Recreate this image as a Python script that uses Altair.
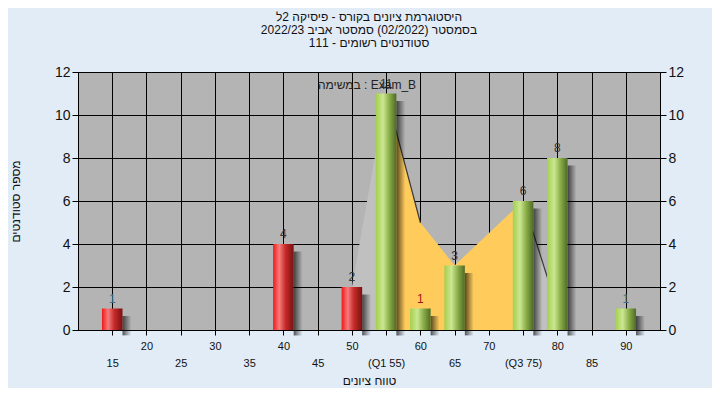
import altair as alt
import pandas as pd

# ---- data ----
GRADES = [15, 40, 50, 55, 60, 65, 75, 80, 90]
COUNTS = [1, 4, 2, 11, 1, 3, 6, 8, 1]
CURVE_X = [50, 55, 60, 65, 75, 80]
CURVE_Y = [2, 11, 5, 3, 6, 1]
Q1, Q3 = 55, 75
PASS = 55
X_TICKS = list(range(15, 95, 5))
Y_TICKS = list(range(0, 13, 2))

TITLE_LINES = [
    "היסטוגרמת ציונים בקורס - פיסיקה 2ל",
    "בסמסטר  (02/2022)  סמסטר אביב 2022/23",
    "סטודנטים רשומים - 111",
]
X_TITLE = "טווח ציונים"
Y_TITLE = "מספר סטודנטים"
TASK_LABEL = "במשימה : Exam_B"

bars = pd.DataFrame({"grade": GRADES, "count": COUNTS})
curve = pd.DataFrame({"grade": CURVE_X, "v": CURVE_Y})

FONT = "Liberation Sans"
xs = alt.Scale(domain=[10, 95], nice=False, zero=False)
ys = alt.Scale(domain=[0, 12], nice=False)

label_expr = (
    f"datum.value == {Q1} ? ['', '(Q1 {Q1})'] : "
    f"datum.value == {Q3} ? ['', '(Q3 {Q3})'] : "
    "(datum.value % 10 == 5 ? ['', datum.label] : datum.label)"
)

x_axis = alt.Axis(
    values=X_TICKS, grid=True, gridColor="black", gridOpacity=1, gridWidth=1,
    tickColor="black", tickSize=5, domainColor="black",
    labelExpr=label_expr, labelFontSize=11, labelBaseline="top", labelPadding=5,
    labelLineHeight=17, labelColor="#111", labelFont=FONT, labelFlush=False,
    labelOverlap=False, title=X_TITLE, titleFont=FONT, titleFontSize=12,
    titleFontWeight="normal", titleColor="#111", titlePadding=7,
)
y_axis_left = alt.Axis(
    values=Y_TICKS, grid=True, gridColor="black", gridOpacity=1, gridWidth=1,
    tickColor="black", tickSize=6, domainColor="black",
    labelFontSize=14, labelFont=FONT, labelColor="#111", labelPadding=2,
    title=Y_TITLE, titleFont=FONT, titleFontSize=12,
    titleFontWeight="normal", titleColor="#111", titlePadding=32,
)
y_axis_right = alt.Axis(
    orient="right", values=Y_TICKS, grid=False,
    tickColor="black", tickSize=6, domainColor="black",
    labelFontSize=14, labelFont=FONT, labelColor="#111", labelPadding=2,
    title=None,
)


def X(field):
    return alt.X(field, type="quantitative", scale=xs, axis=x_axis)


base_axes = alt.Chart(bars).mark_rule(opacity=0).encode(
    x=X("grade"),
    y=alt.Y("count:Q", scale=ys, axis=y_axis_left),
)
right_axis = alt.Chart(bars).mark_rule(opacity=0).encode(
    x=X("grade"),
    y=alt.Y("count:Q", scale=ys, axis=y_axis_right),
)


def area_part(lo, hi, color):
    return alt.Chart(curve).transform_filter(
        f"datum.grade >= {lo} && datum.grade <= {hi}"
    ).mark_area(fill=color, opacity=1).encode(
        x=X("grade"),
        y=alt.Y("v:Q", scale=ys, axis=None),
    )


def line_part(lo, hi):
    return alt.Chart(curve).transform_filter(
        f"datum.grade >= {lo} && datum.grade <= {hi}"
    ).mark_line(color="#3a3a3a", strokeWidth=1.2).encode(
        x=X("grade"),
        y=alt.Y("v:Q", scale=ys, axis=None),
    )


def grad(stops):
    return alt.Gradient(
        gradient="linear", x1=0, x2=1, y1=0, y2=0,
        stops=[alt.GradientStop(color=c, offset=o) for o, c in stops],
    )


red_grad = grad([(0, "#f01818"), (0.3, "#f67c7c"), (0.6, "#c62a2a"), (1, "#7a1010")])
green_grad = grad([(0, "#a4cf4e"), (0.35, "#cbe792"), (0.65, "#8bae48"), (1, "#4d6a26")])
shadow_grad = grad([(0, "rgba(0,0,0,0.65)"), (0.5, "rgba(0,0,0,0.32)"), (1, "rgba(0,0,0,0)")])

bar_base = alt.Chart(bars).transform_calculate(
    x0="datum.grade - 1.5", x1="datum.grade + 1.5",
    s0="datum.grade + 1.5", s1="datum.grade + 2.8",
    stop="datum.count - 0.35",
)

shadows = bar_base.mark_bar(fill=shadow_grad).encode(
    x=X("s0"), x2="s1:Q",
    y=alt.Y("stop:Q", scale=ys, axis=None), y2=alt.datum(-0.25),
)
red_bars = bar_base.transform_filter(f"datum.grade < {PASS}").mark_bar(fill=red_grad).encode(
    x=X("x0"), x2="x1:Q",
    y=alt.Y("count:Q", scale=ys, axis=None), y2=alt.datum(0),
)
green_bars = bar_base.transform_filter(f"datum.grade >= {PASS}").mark_bar(fill=green_grad).encode(
    x=X("x0"), x2="x1:Q",
    y=alt.Y("count:Q", scale=ys, axis=None), y2=alt.datum(0),
)
labels = alt.Chart(bars).transform_calculate(
    tone="datum.grade == 60 ? 'r' : (datum.count == 1 ? 'b' : 'k')"
).mark_text(
    baseline="bottom", dy=-3, fontSize=12, font=FONT
).encode(
    x=X("grade"),
    y=alt.Y("count:Q", scale=ys, axis=None),
    text="count:Q",
    color=alt.Color(
        "tone:N", legend=None,
        scale=alt.Scale(domain=["r", "b", "k"], range=["#a01818", "#3f6c96", "#333333"]),
    ),
)
one_row = bars.head(1)
task = alt.Chart(one_row).mark_text(
    fontSize=12, font=FONT, color="#222", baseline="middle", align="center"
).encode(x=alt.value(289), y=alt.value(13), text=alt.value(TASK_LABEL))

title_text = alt.Chart(one_row).mark_text(
    fontSize=12, font=FONT, color="#111", baseline="middle", align="center",
    lineHeight=13,
).encode(
    x=alt.value(291), y=alt.value(-55),
    text=alt.value(TITLE_LINES),
)

chart = alt.layer(
    base_axes,
    area_part(50, Q1, "#c0c0c0"),
    area_part(Q3, 80, "#c0c0c0"),
    area_part(Q1, Q3, "#ffcc5c"),
    line_part(55, 60),
    line_part(75, 80),
    shadows,
    red_bars,
    green_bars,
    labels,
    task,
    title_text,
    right_axis,
).resolve_scale(y="independent").properties(
    width=582,
    height=258,
    autosize=alt.AutoSizeParams(type="none"),
    padding={"left": 70, "top": 64, "right": 52, "bottom": 58},
).configure(background="#e2ecf7").configure_view(
    fill="#b4b4b4", stroke="black", strokeWidth=1
)

chart.save("out.html", embed_options={"renderer": "svg", "actions": False})
